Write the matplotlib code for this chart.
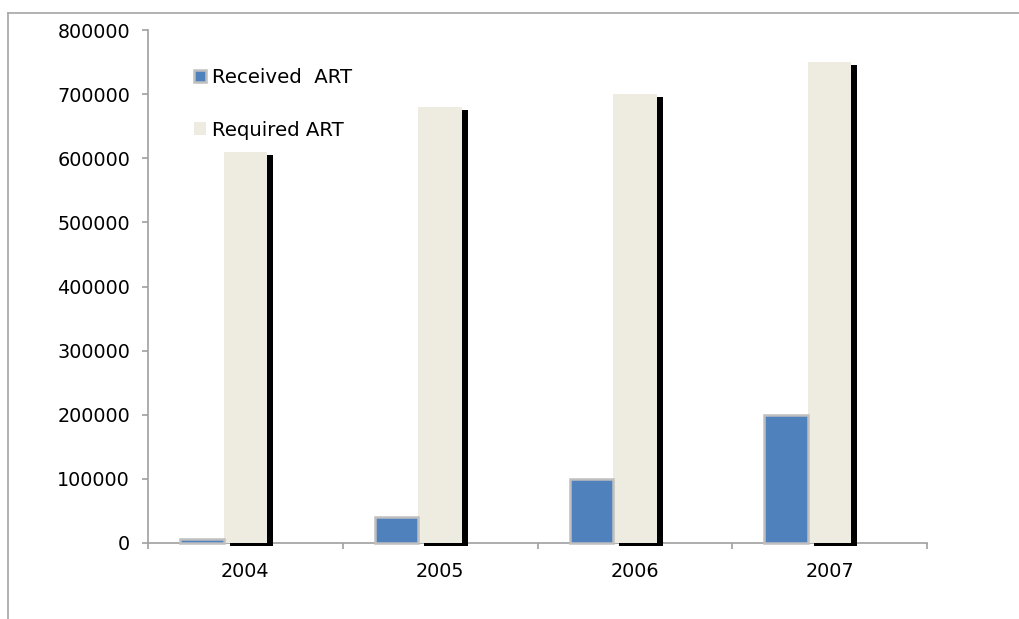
import matplotlib
matplotlib.use("Agg")
import matplotlib.pyplot as plt
import matplotlib.patheffects as pe
from matplotlib.lines import Line2D
from matplotlib.patches import Patch
import numpy as np

years = ["2004", "2005", "2006", "2007"]
received = [7000, 40000, 100000, 200000]
required = [610000, 680000, 700000, 750000]
yticks = [0, 100000, 200000, 300000, 400000, 500000, 600000, 700000, 800000]
series_names = ["Received  ART", "Required ART"]

plt.rcParams['font.family'] = ['DejaVu Sans']

fig = plt.figure(figsize=(10.2, 6.19), dpi=100)
ax = fig.add_axes([148/1020, 1-543/619, (927-148)/1020, (543-30)/619])

x = np.arange(len(years))
w = 0.223
blue = "#4F81BD"
tan = "#EEECE1"
edge = "#BFBFBF"

b1 = ax.bar(x - w, received, width=w, color=blue, edgecolor=edge, linewidth=1.8,
            zorder=3, clip_on=False)
b2 = ax.bar(x, required, width=w, color=tan, edgecolor="none",
            zorder=2, clip_on=False)
for p in b2:
    p.set_path_effects([pe.SimplePatchShadow(offset=(4.3, -2.2), shadow_rgbFace="black",
                                             alpha=1.0, rho=1.0), pe.Normal()])

ax.set_xlim(-0.5, 3.5)
ax.set_ylim(0, 800000)
ax.set_yticks(yticks)
ax.set_yticklabels([str(v) for v in yticks])
ax.set_xticks(x)
ax.set_xticklabels(years)
ax.set_xticks(np.arange(-0.5, 4.0, 1.0), minor=True)

for s in ["top", "right"]:
    ax.spines[s].set_visible(False)
for s in ["left", "bottom"]:
    ax.spines[s].set_color("#A0A0A0")
    ax.spines[s].set_linewidth(1.2)
    ax.spines[s].set_zorder(1)

ax.tick_params(axis="y", direction="out", length=4.3, width=1.2, color="#A0A0A0",
               pad=8.6, labelsize=13.8, labelcolor="black")
ax.tick_params(axis="x", which="major", length=0, pad=13.8, labelsize=13.8, labelcolor="black")
ax.tick_params(axis="x", which="minor", direction="out", length=4.3, width=1.2, color="#A0A0A0")

handles = [Patch(facecolor=blue, edgecolor=edge, linewidth=1.8),
           Patch(facecolor=tan, edgecolor="none")]
leg = ax.legend(handles, series_names, loc="upper left", bbox_to_anchor=(194/1020, 1-68/619),
                bbox_transform=fig.transFigure, frameon=False, fontsize=14.2,
                labelspacing=1.7, handlelength=0.6, handleheight=0.6,
                handletextpad=0.3, borderpad=0, borderaxespad=0)

# outer frame lines
fig.add_artist(Line2D([8/1020, 1.0], [1-13/619, 1-13/619], transform=fig.transFigure,
                      color="#A6A6A6", linewidth=1.2))
fig.add_artist(Line2D([8/1020, 8/1020], [0, 1-13/619], transform=fig.transFigure,
                      color="#A6A6A6", linewidth=1.2))

fig.savefig("out.png", dpi=100)
